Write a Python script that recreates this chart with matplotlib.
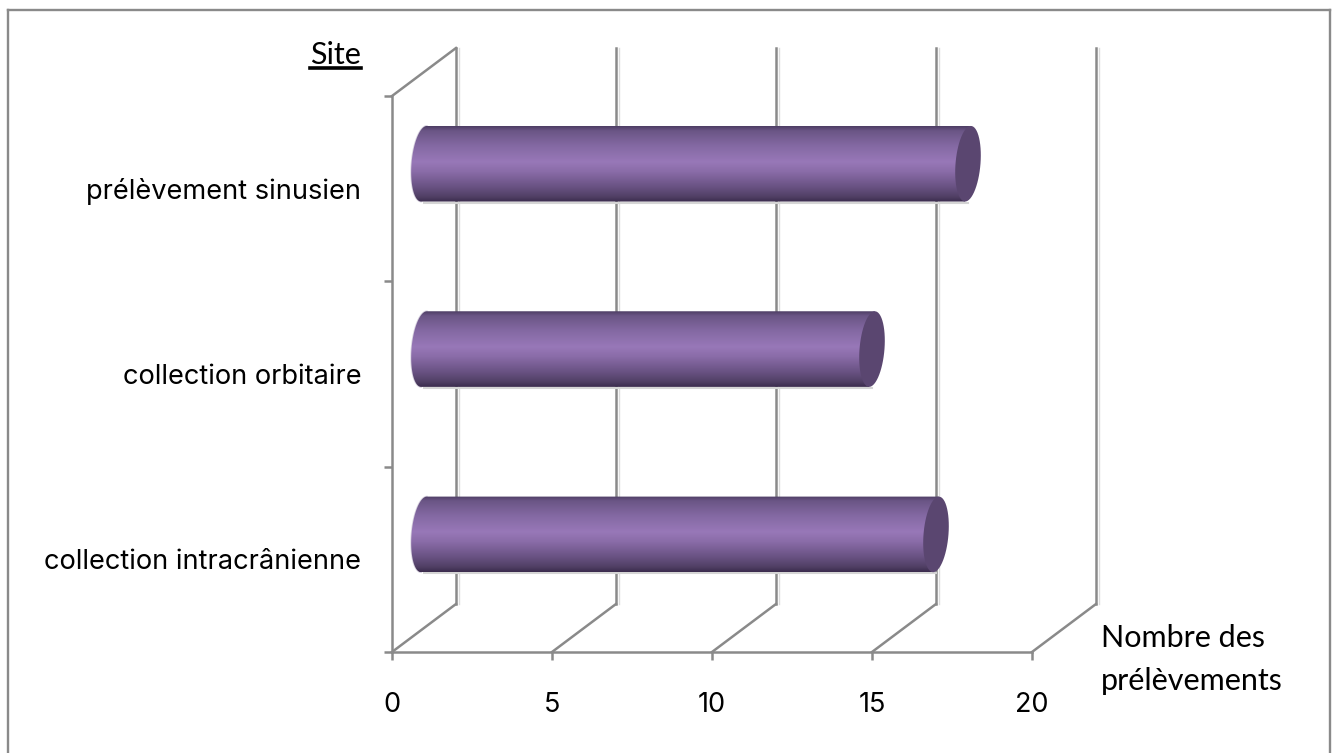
import matplotlib
matplotlib.use("Agg")
import matplotlib.pyplot as plt
import numpy as np
from matplotlib.colors import LinearSegmentedColormap
from matplotlib.lines import Line2D
from matplotlib.path import Path

W, H = 1332, 753

sites = ["collection intracrânienne", "collection orbitaire", "prélèvement sinusien"]
counts = [16, 14, 17]
xticks = [0, 5, 10, 15, 20]

GREY = "#8a8a8a"
LW = 1.8
depth_x = 2.0      # floor depth, in x units
depth_y = 0.259    # floor depth, in category units
bar_h = 0.408
cap_w = 0.39
skew = 0.09        # the ellipses lean slightly to the right at the top

plt.rcParams["font.family"] = "Inter"

fig = plt.figure(figsize=(W / 100, H / 100), dpi=100)
ax = fig.add_axes([392 / W, 1 - 652 / H, 640 / W, 556 / H])
ax.set_facecolor("none")

# back wall gridlines and floor diagonals
ytop = 2.5
for t in xticks:
    ax.plot([t, t + depth_x], [-0.5, -0.5 + depth_y], color=GREY, lw=LW, clip_on=False, zorder=1)
    ax.plot([t + depth_x] * 2, [-0.5 + depth_y, ytop + depth_y], color=GREY, lw=LW, clip_on=False, zorder=1)
    ax.plot([t + depth_x + 0.08] * 2, [-0.5 + depth_y, ytop + depth_y], color="#dcdcdc", lw=1, clip_on=False, zorder=0.9)
ax.plot([0, depth_x], [ytop, ytop + depth_y], color=GREY, lw=LW, clip_on=False, zorder=1)

# cylinder shading from top to bottom
shade = LinearSegmentedColormap.from_list(
    "cyl", [(0, "#4d3d63"), (0.06, "#6a5585"), (0.25, "#8368a2"), (0.47, "#9878b8"),
            (0.6, "#8a6ca8"), (0.8, "#695283"), (0.93, "#514065"), (1, "#3b2b4d")])
grad = np.linspace(0, 1, 256).reshape(-1, 1)


def ellipse_pts(xc, yc, start, stop, n=60):
    th = np.linspace(start, stop, n)
    return xc + cap_w * np.cos(th) + skew * np.sin(th), yc + bar_h / 2 * np.sin(th)


for i, v in enumerate(counts):
    yc = i + depth_y / 2 + 0.005
    x0 = depth_x / 2
    x1 = v + depth_x / 2
    top, bot = yc + bar_h / 2, yc - bar_h / 2
    # body outline: rounded at the left end, straight to the cap on the right
    lx, ly = ellipse_pts(x0, yc, np.pi / 2, 3 * np.pi / 2)
    xs = np.r_[lx, x1 - skew, x1 + skew, x0 + skew]
    ys = np.r_[ly, bot, top, top]
    outline = Path(np.c_[xs, ys], closed=False)
    ax.plot(lx, ly, color="#d8d2e0", lw=1.2, zorder=2.5, clip_on=False)
    ax.plot([x0, x1], [bot - 0.006, bot - 0.006], color="#d5d5d5", lw=1.5, zorder=2.5, clip_on=False)
    im = ax.imshow(grad, cmap=shade, aspect="auto", zorder=3, interpolation="bilinear",
                   extent=(x0 - cap_w - skew, x1 + skew, bot, top))
    im.set_clip_path(outline, transform=ax.transData)
    cx, cy = ellipse_pts(x1, yc, 0, 2 * np.pi)
    ax.fill(cx, cy, facecolor="#5a4670", edgecolor="none", zorder=4, clip_on=False)

ax.set_xlim(0, 20)
ax.set_ylim(-0.5, 2.5)

for s in ["top", "right"]:
    ax.spines[s].set_visible(False)
for s in ["left", "bottom"]:
    ax.spines[s].set_color(GREY)
    ax.spines[s].set_linewidth(LW)
    ax.spines[s].set_zorder(1)

ax.set_xticks(xticks)
ax.tick_params(axis="x", length=6, width=LW, color=GREY, labelsize=19.5, pad=23)
ax.set_yticks([-0.5, 0.5, 1.5, 2.5])
ax.set_yticklabels([])
ax.tick_params(axis="y", which="major", length=6, width=LW, color=GREY)
ax.set_yticks([0, 1, 2], minor=True)
ax.set_yticklabels(sites, minor=True, fontsize=19.6)
ax.tick_params(axis="y", which="minor", length=0, pad=22)

# axis titles
fig.text(361 / W, 1 - 64.5 / H, "Site", ha="right", va="baseline", fontsize=22, family="Lato")
fig.add_artist(Line2D([310 / W, 361 / W], [1 - 68 / H] * 2, color="black", lw=2.6))
fig.text(1101 / W, 1 - 647 / H, "Nombre des", ha="left", va="baseline", fontsize=22, family="Lato")
fig.text(1101 / W, 1 - 690 / H, "prélèvements", ha="left", va="baseline", fontsize=22, family="Lato")

# frame around the chart, open at the bottom
for xa, ya, xb, yb in [(8, 753, 8, 10), (8, 10, 1330, 10), (1330, 10, 1330, 753)]:
    fig.add_artist(Line2D([xa / W, xb / W], [1 - ya / H, 1 - yb / H], color=GREY, lw=1.7))

fig.savefig("out.png", dpi=100)
